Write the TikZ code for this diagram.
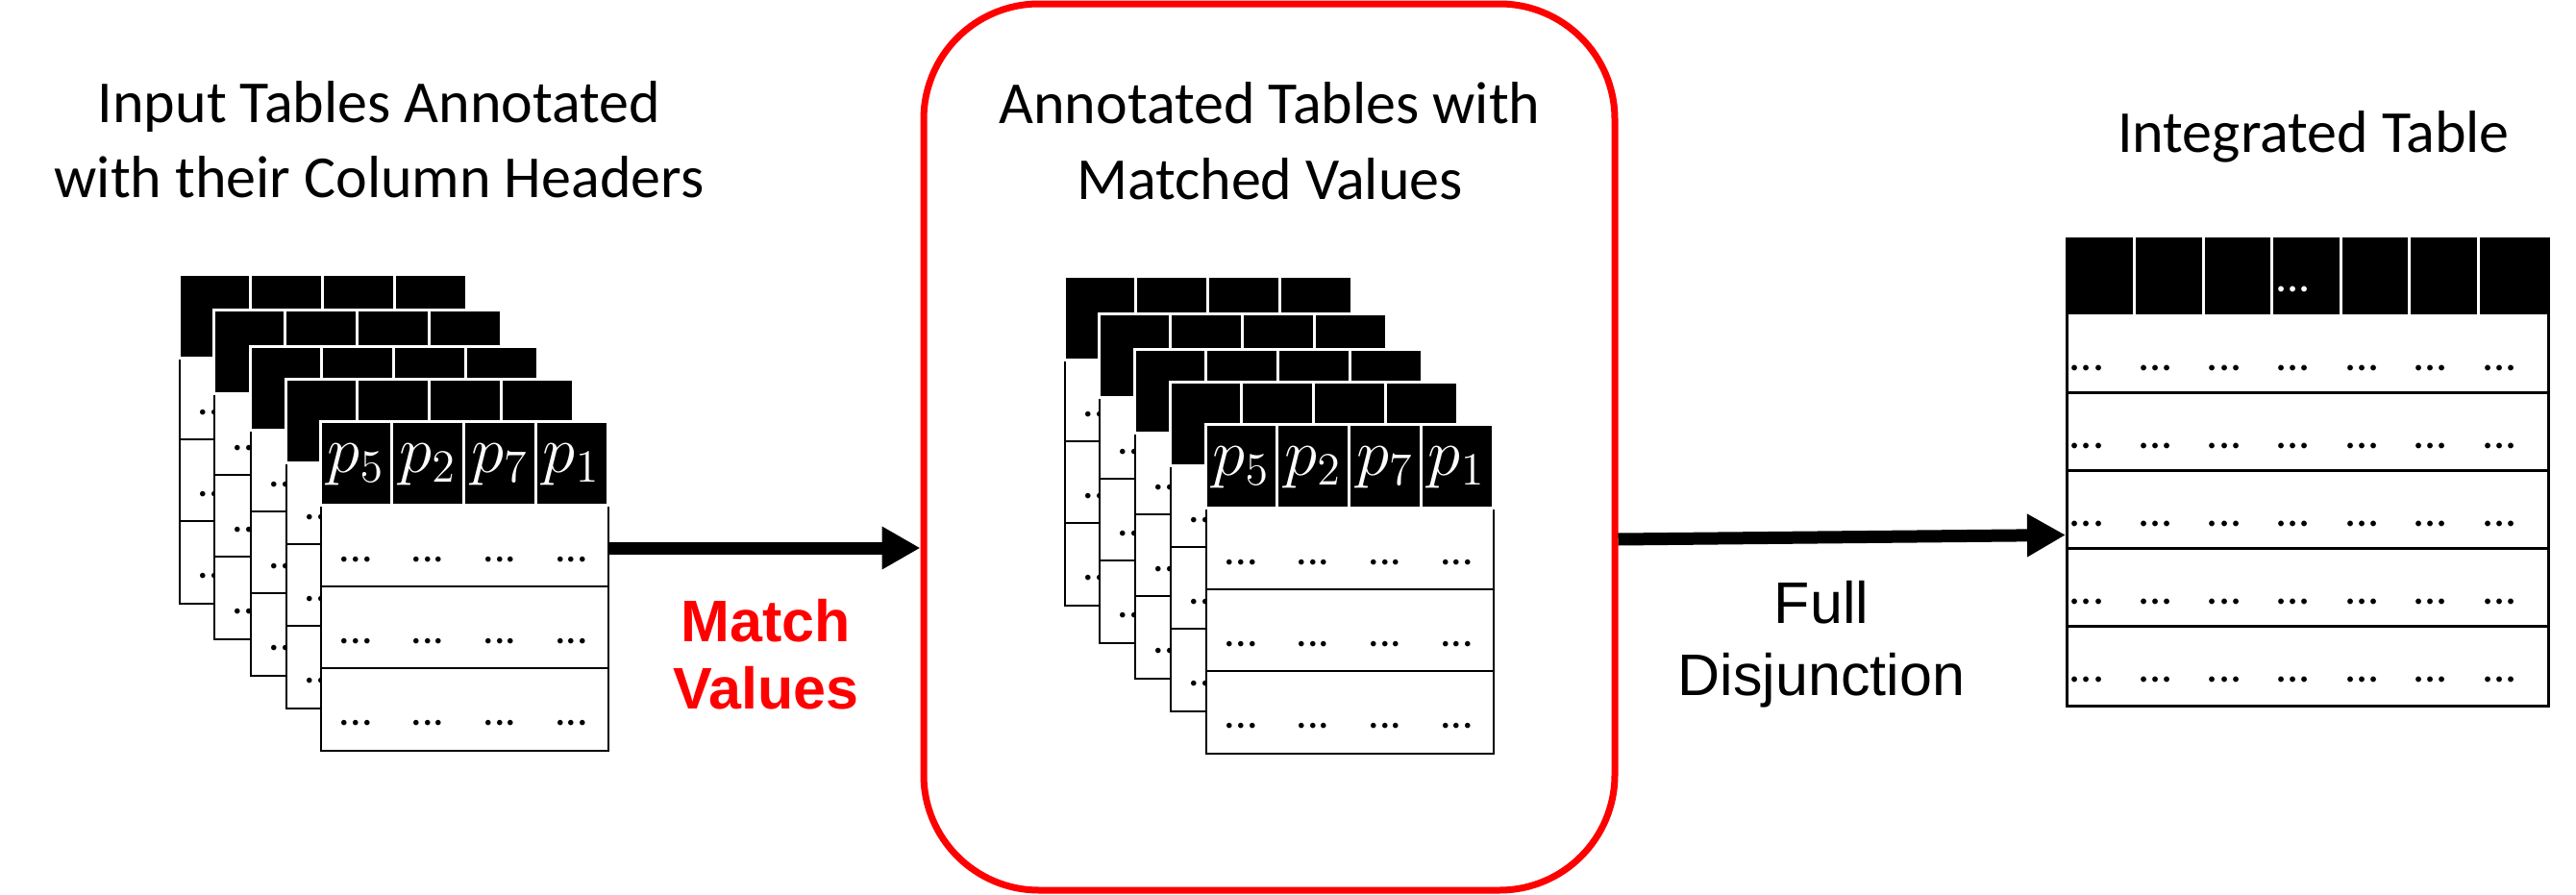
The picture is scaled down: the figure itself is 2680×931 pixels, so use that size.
\documentclass[tikz,border=0pt]{standalone}
\usepackage[no-math]{fontspec}
\setmainfont{Carlito}
\newfontfamily\arialfont{Liberation Sans}
\usetikzlibrary{arrows.meta,calc}
\definecolor{boxred}{RGB}{255,0,0}
\tikzset{
  tblframe/.style={draw=black, fill=white, line width=0.5pt, minimum width=74.75pt, minimum height=85.5pt, inner sep=0pt, anchor=north west},
  bigframe/.style={draw=black, fill=white, line width=0.75pt, minimum width=125.25pt, minimum height=121.5pt, inner sep=0pt, anchor=north west},
  hdrline/.style={white, line width=0.75pt},
  rowline/.style={black, line width=0.5pt},
  rowlinebig/.style={black, line width=0.75pt},
  celldots/.style={font=\fontsize{11.5}{13}\selectfont, inner sep=0pt, anchor=base},
  bigdots/.style={font=\fontsize{12}{14}\selectfont, inner sep=0pt, anchor=base},
  hdrlabel/.style={text=white, font=\fontsize{18}{20}\selectfont, inner sep=0pt, anchor=base},
  titletext/.style={font=\fontsize{15.5}{19}\selectfont, inner sep=0pt, anchor=base},
  steplabel/.style={font=\arialfont\fontsize{15.25}{18}\selectfont, inner sep=0pt, anchor=base},
  bigarrow/.style={line width=3.25pt, -{Triangle[length=10pt,width=10.5pt]}},
  redbox/.style={draw=boxred, line width=1.75pt, rounded corners=30pt, minimum width=179.75pt, minimum height=230.5pt, inner sep=0pt}
}
% a table of the stack: frame, black header with white dividers, row lines
\newcommand{\tableframe}[3]{%
  \node[tblframe] (#1) at (#2,#3) {};
  \fill[black] (#2,#3) rectangle ++(299,87);
  \draw[hdrline] (#2,#3) rectangle ++(299,87);
  \foreach \k in {1,2,3} {\draw[hdrline] (#2+74.75*\k,#3) -- ++(0,87);}
  \foreach \r in {1,2} {\draw[rowline] (#2,#3+87+85*\r) -- ++(299,0);}
}
% back table: only its first column shows
\newcommand{\backtable}[3]{%
  \tableframe{#1}{#2}{#3}
  \foreach \r in {0,1,2} {\node[celldots] (#1-0-\r) at (#2+37.4,#3+146+85*\r) {...};}
}
% front table: all cells and the header labels
\newcommand{\fronttable}[3]{%
  \tableframe{#1}{#2}{#3}
  \foreach \k in {0,...,3} {\foreach \r in {0,1,2} {\node[celldots] (#1-\k-\r) at (#2+37.4+74.75*\k,#3+146+85*\r) {...};}}
  \node[hdrlabel] (#1-h0) at (#2+37.4,#3+53) {$p_5$};
  \node[hdrlabel] (#1-h1) at (#2+112.1,#3+53) {$p_2$};
  \node[hdrlabel] (#1-h2) at (#2+186.9,#3+53) {$p_7$};
  \node[hdrlabel] (#1-h3) at (#2+261.6,#3+53) {$p_1$};
}
\begin{document}
\begin{tikzpicture}[x=0.25pt,y=-0.25pt]
\useasboundingbox (0,0) rectangle (2680,931);

% left stack
\backtable{L1}{186}{285}
\backtable{L2}{222}{322}
\backtable{L3}{260}{360}
\backtable{L4}{297}{394}
\fronttable{L5}{333}{438}

% middle stack
\backtable{M1}{1107}{287}
\backtable{M2}{1143}{326}
\backtable{M3}{1180}{363}
\backtable{M4}{1217}{397}
\fronttable{M5}{1254}{441}

% red box
\node[redbox] (box) at (1320.5,465) {};

% integrated table
\node[bigframe] (I) at (2149,247) {};
\fill[black] (2149,247) rectangle ++(501,80);
\foreach \k in {1,...,6} {\draw[hdrline] (2149+71.571*\k,247) -- ++(0,80);}
\foreach \r in {1,...,4} {\draw[rowlinebig] (2149,327+81.2*\r) -- ++(501,0);}
\foreach \k in {0,...,6} {\foreach \r in {0,...,4} {\node[bigdots] (I-\k-\r) at (2171+71.571*\k,385+81.2*\r) {...};}}
\node[bigdots, text=white] (I-h) at (2171+71.571*3,303) {...};

% titles
\node[titletext] (t1a) at (394.5,127) {Input Tables Annotated};
\node[titletext] (t1b) at (394.5,205) {with their Column Headers};
\node[titletext] (t2a) at (1321,128) {Annotated Tables with};
\node[titletext] (t2b) at (1321,207) {Matched Values};
\node[titletext] (t3) at (2407,158) {Integrated Table};

% step labels
\node[steplabel, text=boxred, font=\arialfont\bfseries\fontsize{15.25}{18}\selectfont] (s1a) at (797,667) {Match};
\node[steplabel, text=boxred, font=\arialfont\bfseries\fontsize{15.25}{18}\selectfont] (s1b) at (797,737) {Values};
\node[steplabel] (s2a) at (1895,648) {Full};
\node[steplabel] (s2b) at (1895,723) {Disjunction};

% arrows
\coordinate (a1s) at ($(L5.north east)+(0,132)$);
\draw[bigarrow] (a1s) -- (a1s -| box.west);
\coordinate (a2s) at ($(box.east)+(0,96)$);
\coordinate (a2e) at ($(I.west)+(0,65)$);
\draw[bigarrow] (a2s) -- (a2e);
\end{tikzpicture}
\end{document}
